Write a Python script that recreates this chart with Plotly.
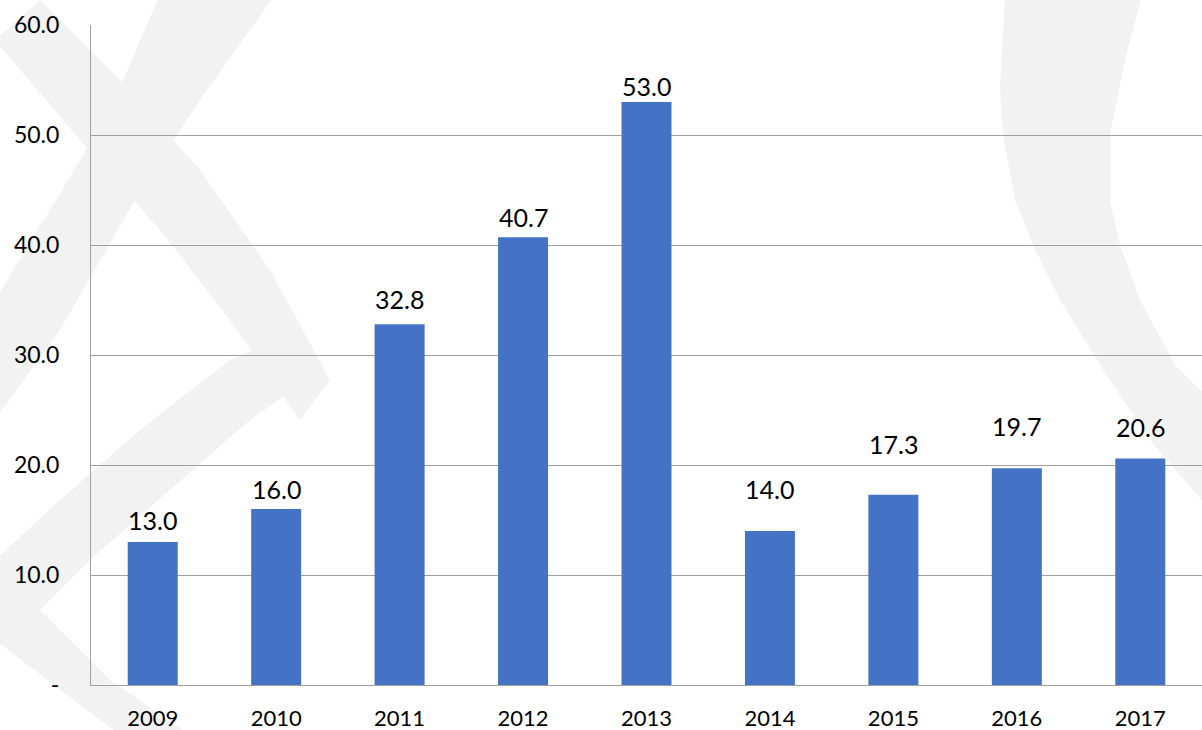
import plotly.graph_objects as go

years = ["2009", "2010", "2011", "2012", "2013", "2014", "2015", "2016", "2017"]
values = [13.0, 16.0, 32.8, 40.7, 53.0, 14.0, 17.3, 19.7, 20.6]
label_shift = [5, 3, 8, 3, -1, 25, 34, 25, 14]  # px offsets of data labels above bars
y_ticks = [0, 10, 20, 30, 40, 50, 60]
y_tick_text = ["-", "10.0", "20.0", "30.0", "40.0", "50.0", "60.0"]

W, H = 1202, 730
ML, MR, MT, MB = 91, 0, 25, 45
PW, PH = W - ML - MR, H - MT - MB
FONT = "Lato, 'Open Sans', sans-serif"


def px_path(points):
    """Convert pixel points to a paper-coordinate SVG path (watermark decoration)."""
    pts = [((x - ML) / PW, (H - MB - y) / PH) for x, y in points]
    return "M " + " L ".join(f"{x:.4f},{y:.4f}" for x, y in pts) + " Z"


wm = "#f2f2f2"
watermark = [
    # right crescent
    [(1005, -5), (1000, 90), (1003, 135), (1015, 200), (1033, 245), (1060, 300), (1100, 365),
     (1150, 440), (1210, 510), (1210, 400), (1175, 365), (1140, 300), (1120, 245),
     (1110, 200), (1110, 135), (1125, 60), (1142, -5)],
    # left arcs (approximate)
    [(160, -5), (275, -5), (200, 100), (135, 200), (60, 330), (-5, 420), (-5, 300),
     (50, 210), (110, 110)],
    [(-5, 40), (40, 0), (120, 80), (200, 170), (270, 270), (330, 380), (300, 420),
     (230, 320), (160, 230), (80, 140)],
    [(-5, 560), (60, 500), (140, 430), (230, 360), (300, 330), (320, 370), (250, 420),
     (170, 490), (90, 560), (40, 610), (110, 680), (190, 735), (120, 735), (-5, 640)],
]

shapes = [
    dict(type="path", path=px_path(p), xref="paper", yref="paper",
         fillcolor=wm, line=dict(width=0), layer="below")
    for p in watermark
]

fig = go.Figure()
fig.add_trace(go.Bar(
    x=years, y=values,
    marker=dict(color="#4472C4", line=dict(width=0)),
    hoverinfo="x+y",
))

annotations = [
    dict(x=i, y=v, text=f"{v:.1f}", xref="x", yref="y", showarrow=False,
         yanchor="bottom", yshift=s, font=dict(family=FONT, size=25, color="#000000"))
    for i, (v, s) in enumerate(zip(values, label_shift))
]

fig.update_layout(
    width=W, height=H, autosize=False,
    margin=dict(l=ML, r=MR, t=MT, b=MB, pad=0),
    paper_bgcolor="rgba(0,0,0,0)",
    plot_bgcolor="rgba(0,0,0,0)",
    bargap=0.595,
    showlegend=False,
    font=dict(family=FONT, size=22, color="#000000"),
    shapes=shapes,
    annotations=annotations,
    xaxis=dict(
        type="category", categoryorder="array", categoryarray=years,
        range=[-0.5, len(years) - 0.5],
        showline=True, linecolor="#a0a0a0", linewidth=1,
        ticks="", showgrid=False, zeroline=False,
        tickfont=dict(family=FONT, size=22, color="#000000"),
        ticklabelstandoff=14,
    ),
    yaxis=dict(
        range=[0, 60], tickvals=y_ticks, ticktext=y_tick_text,
        showline=True, linecolor="#a0a0a0", linewidth=1,
        showgrid=True, gridcolor="#a0a0a0", gridwidth=1, zeroline=False,
        ticks="", tickfont=dict(family=FONT, size=23, color="#000000"),
        ticklabelstandoff=26,
    ),
)

fig.write_html("out.html", config={"displayModeBar": False},
               post_script="document.body.style.margin='0';document.body.style.overflow='hidden';")
